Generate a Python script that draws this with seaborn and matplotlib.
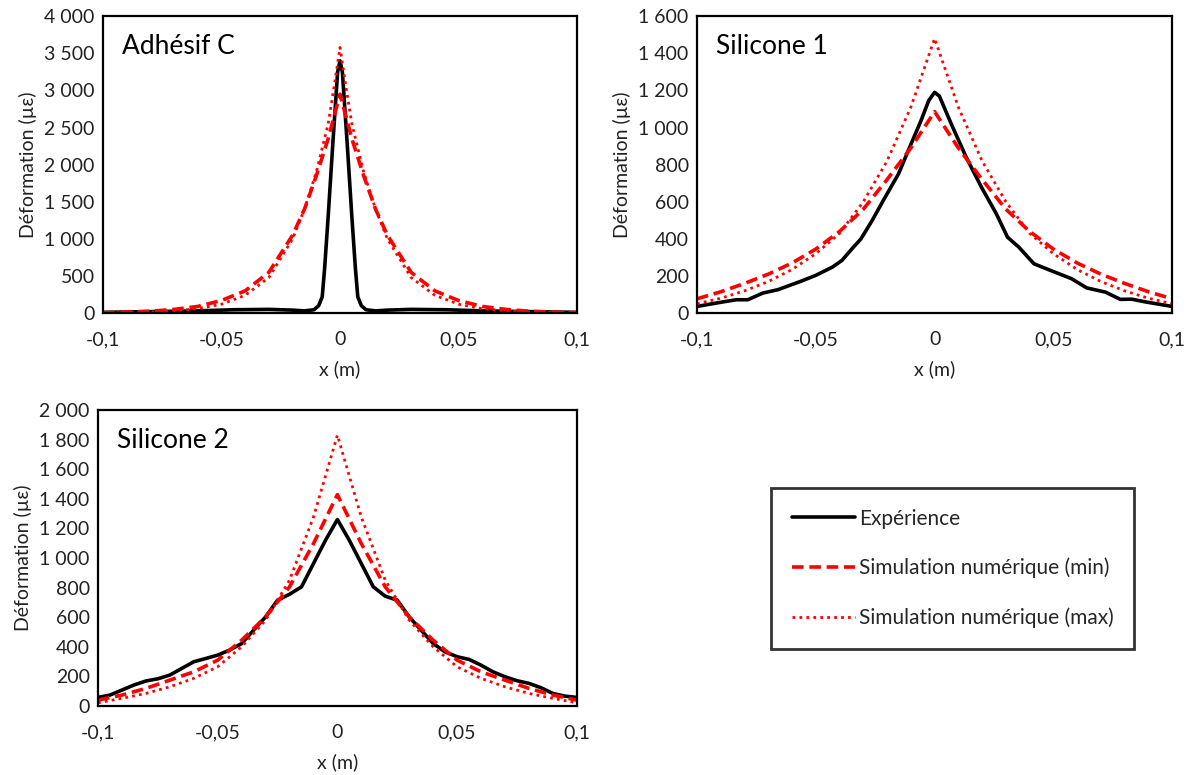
import matplotlib
matplotlib.use("Agg")
import matplotlib.pyplot as plt
import matplotlib.ticker as mticker
import seaborn as sns

# --- Adhésif C ---
x_adh_exp = [-0.1, -0.08, -0.06, -0.045, -0.03, -0.02, -0.015, -0.011, -0.009, -0.0075, -0.0065,
             -0.005, -0.003, -0.001, 0.0, 0.001, 0.003, 0.005, 0.0065, 0.0075, 0.009, 0.011,
             0.015, 0.02, 0.03, 0.045, 0.06, 0.08, 0.1]
y_adh_exp = [10, 20, 30, 45, 50, 40, 30, 45, 100, 220, 600,
             1300, 2300, 3250, 3400, 3250, 2300, 1300, 600, 220, 100, 45,
             30, 40, 50, 45, 30, 20, 10]
x_adh_sim = [-0.1, -0.08, -0.07, -0.06, -0.05, -0.04, -0.03, -0.02, -0.015, -0.01, -0.005, -0.0025,
             0.0, 0.0025, 0.005, 0.01, 0.015, 0.02, 0.03, 0.04, 0.05, 0.06, 0.07, 0.08, 0.1]
y_adh_min = [5, 25, 50, 90, 170, 300, 550, 1050, 1400, 1850, 2350, 2650,
             2950, 2650, 2350, 1850, 1400, 1050, 550, 300, 170, 90, 50, 25, 5]
y_adh_max = [3, 15, 30, 60, 120, 240, 480, 1000, 1400, 1900, 2550, 3050,
             3580, 3050, 2550, 1900, 1400, 1000, 480, 240, 120, 60, 30, 15, 3]

# --- Silicone 1 ---
x_s1_exp = [-0.1, -0.0897, -0.0834, -0.0786, -0.0723, -0.066, -0.0564, -0.0501, -0.043, -0.039,
            -0.0342, -0.031, -0.0263, -0.0216, -0.0152, -0.0105, -0.0057, -0.0025, 0.0,
            0.002, 0.007, 0.0133, 0.0197, 0.026, 0.0307, 0.0355, 0.0418, 0.0482, 0.0577,
            0.064, 0.0719, 0.0782, 0.083, 0.0893, 0.1]
y_s1_exp = [36, 59, 72, 72, 108, 126, 171, 203, 248, 284,
            355, 400, 499, 607, 750, 894, 1038, 1145, 1190,
            1170, 1020, 840, 679, 535, 409, 355, 266, 233, 185,
            136, 113, 74, 75, 59, 36]
x_s1_sim = [-0.1, -0.09, -0.08, -0.07, -0.06, -0.05, -0.04, -0.03, -0.02, -0.01, 0.0,
            0.01, 0.02, 0.03, 0.04, 0.05, 0.06, 0.07, 0.08, 0.09, 0.1]
y_s1_min = [77, 115, 160, 210, 270, 345, 440, 560, 720, 890, 1086,
            890, 720, 560, 440, 345, 270, 210, 160, 115, 77]
y_s1_max = [50, 80, 120, 170, 235, 320, 430, 600, 820, 1110, 1480,
            1110, 820, 600, 430, 320, 235, 170, 120, 80, 50]

# --- Silicone 2 ---
x_s2_exp = [-0.1, -0.095, -0.09, -0.085, -0.08, -0.075, -0.07, -0.065, -0.06, -0.055, -0.05,
            -0.045, -0.04, -0.035, -0.03, -0.025, -0.02, -0.015, -0.01, -0.005, 0.0,
            0.005, 0.01, 0.015, 0.02, 0.025, 0.03, 0.035, 0.04, 0.045, 0.05, 0.055, 0.06,
            0.065, 0.07, 0.075, 0.08, 0.085, 0.09, 0.095, 0.1]
y_s2_exp = [58, 74, 108, 142, 169, 184, 209, 254, 299, 321, 344,
            378, 422, 512, 602, 715, 755, 805, 962, 1119, 1260,
            1119, 962, 805, 742, 715, 602, 512, 422, 366, 333, 315, 276,
            231, 198, 171, 153, 124, 85, 67, 58]
x_s2_sim = [-0.1, -0.09, -0.08, -0.07, -0.06, -0.05, -0.04, -0.03, -0.02, -0.01, 0.0,
            0.01, 0.02, 0.03, 0.04, 0.05, 0.06, 0.07, 0.08, 0.09, 0.1]
y_s2_min = [40, 74, 119, 175, 231, 310, 445, 602, 805, 1097, 1428,
            1097, 805, 602, 445, 310, 231, 175, 119, 74, 40]
y_s2_max = [22, 52, 85, 130, 187, 265, 400, 580, 850, 1276, 1830,
            1276, 850, 580, 400, 265, 187, 130, 85, 52, 22]

x_ticks = [-0.1, -0.05, 0, 0.05, 0.1]
x_tick_labels = ["-0,1", "-0,05", "0", "0,05", "0,1"]
labels = ["Expérience", "Simulation numérique (min)", "Simulation numérique (max)"]

sns.set_style("white")
plt.rcParams["font.family"] = ["Lato", "DejaVu Sans"]

fig = plt.figure(figsize=(11.88, 7.75), dpi=100)
ax1 = fig.add_axes([0.0867, 0.596, 0.399, 0.383])
ax2 = fig.add_axes([0.5867, 0.596, 0.400, 0.383])
ax3 = fig.add_axes([0.0825, 0.089, 0.403, 0.382])

TXT = "#222222"


def thousands(v, pos):
    return f"{int(round(v)):,}".replace(",", "\u00a0")


def draw_panel(ax, x_exp, y_exp, x_sim, y_min, y_max, title, ymax, ystep):
    sns.lineplot(x=x_exp, y=y_exp, ax=ax, color="black", linewidth=2.6, label=labels[0])
    sns.lineplot(x=x_sim, y=y_min, ax=ax, color="#ff0000", linewidth=2.6,
                 linestyle=(0, (3.2, 1.6)), label=labels[1])
    sns.lineplot(x=x_sim, y=y_max, ax=ax, color="#ff0000", linewidth=2.0,
                 linestyle=(0, (1, 1.5)), label=labels[2])
    ax.set_xlim(-0.1, 0.1)
    ax.set_ylim(0, ymax)
    ax.set_xticks(x_ticks)
    ax.set_xticklabels(x_tick_labels)
    ax.yaxis.set_major_locator(mticker.MultipleLocator(ystep))
    ax.yaxis.set_major_formatter(mticker.FuncFormatter(thousands))
    ax.tick_params(axis="x", direction="in", length=4, width=1, labelsize=14, pad=13, colors=TXT)
    ax.tick_params(axis="y", length=0, labelsize=14, pad=6, colors=TXT)
    ax.set_xlabel("x (m)", fontsize=14, color=TXT, labelpad=9)
    ax.set_ylabel("Déformation (µε)", fontsize=14, color=TXT, labelpad=5)
    for sp in ax.spines.values():
        sp.set_color("black")
        sp.set_linewidth(1.6)
        sp.set_visible(True)
    ax.text(0.04, 0.94, title, transform=ax.transAxes, fontsize=19, va="top", ha="left", color="black")
    ax.get_legend().remove()


draw_panel(ax1, x_adh_exp, y_adh_exp, x_adh_sim, y_adh_min, y_adh_max, "Adhésif C", 4000, 500)
draw_panel(ax2, x_s1_exp, y_s1_exp, x_s1_sim, y_s1_min, y_s1_max, "Silicone 1", 1600, 200)
draw_panel(ax3, x_s2_exp, y_s2_exp, x_s2_sim, y_s2_min, y_s2_max, "Silicone 2", 2000, 200)

handles = ax3.get_lines()[:3]
leg = fig.legend(handles, labels, loc="center", bbox_to_anchor=(0.802, 0.2665),
                 fontsize=15, frameon=True, fancybox=False, handlelength=3.0,
                 handletextpad=0.2, labelspacing=1.4, borderpad=1.0, borderaxespad=0)
leg.get_frame().set_edgecolor("black")
leg.get_frame().set_linewidth(2)

fig.savefig("out.png", dpi=100)
